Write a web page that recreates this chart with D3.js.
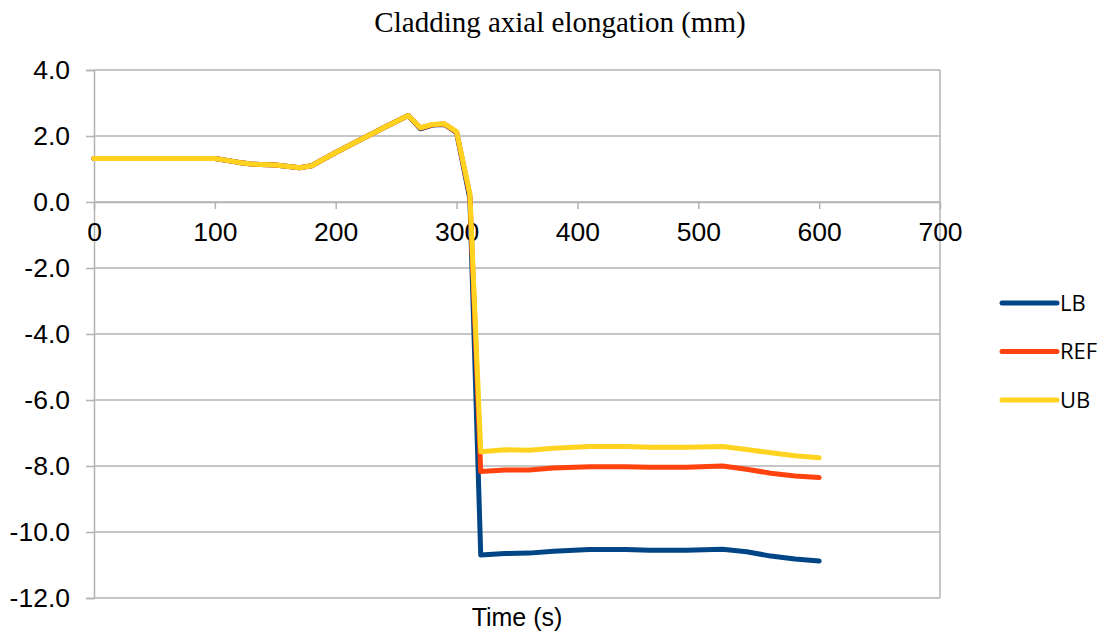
<!DOCTYPE html>
<html>
<head>
<meta charset="utf-8">
<script src="https://cdn.jsdelivr.net/npm/d3@7"></script>
<style>
  body { margin: 0; background: #fff; }
  svg { display: block; }
</style>
</head>
<body>
<div id="chart"><svg width="1110" height="637"></svg></div>
<script>
const TIME = [0, 100, 120, 130, 150, 170, 180, 200, 220, 240, 260, 270, 280, 290, 300, 311, 320, 340, 360, 380, 410, 440, 460, 490, 520, 540, 560, 580, 600];
const LB  = [1.32, 1.32, 1.2, 1.15, 1.12, 1.04, 1.1, 1.5, 1.88, 2.26, 2.62, 2.22, 2.33, 2.35, 2.1, 0.1, -10.7, -10.65, -10.64, -10.58, -10.53, -10.53, -10.55, -10.55, -10.52, -10.6, -10.73, -10.82, -10.88];
const REF = [1.32, 1.32, 1.2, 1.15, 1.12, 1.04, 1.1, 1.5, 1.88, 2.26, 2.62, 2.24, 2.34, 2.36, 2.12, 0.2, -8.17, -8.12, -8.12, -8.06, -8.02, -8.02, -8.04, -8.04, -8.0, -8.1, -8.22, -8.3, -8.35];
const UB  = [1.32, 1.32, 1.2, 1.15, 1.12, 1.04, 1.1, 1.5, 1.88, 2.26, 2.62, 2.25, 2.35, 2.37, 2.13, 0.25, -7.57, -7.51, -7.52, -7.46, -7.41, -7.41, -7.43, -7.43, -7.41, -7.5, -7.6, -7.69, -7.75];
const SERIES_NAMES = ['LB', 'REF', 'UB'];
const SERIES_COLORS = ['#004586', '#ff420e', '#ffd320'];
const X_TICKS = [0, 100, 200, 300, 400, 500, 600, 700];
const Y_TICKS = [4, 2, 0, -2, -4, -6, -8, -10, -12];

const SVG = d3.select('#chart svg');
const LEFT = 94, RIGHT = 940, TOP = 70, BOTTOM = 598;
const GRID = '#b3b3b3';
const SANS = '"Liberation Sans", Arial, sans-serif';

const X = d3.scaleLinear().domain([0, 700]).range([LEFT, RIGHT]);
const Y = d3.scaleLinear().domain([-12, 4]).range([BOTTOM, TOP]);

// horizontal gridlines
SVG.append('g')
  .selectAll('line')
  .data(Y_TICKS)
  .join('line')
  .attr('x1', LEFT).attr('x2', RIGHT)
  .attr('y1', (d) => Y(d)).attr('y2', (d) => Y(d))
  .style('stroke', GRID).style('stroke-width', 1.5);

// right border
SVG.append('line')
  .attr('x1', RIGHT).attr('x2', RIGHT).attr('y1', TOP).attr('y2', BOTTOM)
  .style('stroke', GRID).style('stroke-width', 1.5);

// y axis
const Y_AXIS = d3.axisLeft(Y).tickValues(Y_TICKS).tickSize(8).tickPadding(16);
const Y_GROUP = SVG.append('g').attr('transform', `translate(${LEFT},0)`);
Y_AXIS(Y_GROUP);
Y_GROUP.selectAll('path, line').style('stroke', GRID).style('stroke-width', 1.5);
Y_GROUP.selectAll('text')
  .style('font-family', SANS)
  .style('font-size', '26.5px').style('fill', '#000')
  .text((d) => d3.format('.1f')(d).replace('−', '-'));

// x axis through zero
const X_AXIS = d3.axisBottom(X).tickValues(X_TICKS).tickSize(7).tickSizeOuter(0).tickPadding(13).tickFormat(d3.format('d'));
const X_GROUP = SVG.append('g').attr('transform', `translate(0,${Y(0)})`);
X_AXIS(X_GROUP);
X_GROUP.selectAll('path, line').style('stroke', GRID).style('stroke-width', 1.5);
X_GROUP.selectAll('text')
  .style('font-family', SANS)
  .style('font-size', '26.5px').style('fill', '#000');

// lines
const SERIES = [LB, REF, UB].map((vals, k) => ({
  name: SERIES_NAMES[k],
  color: SERIES_COLORS[k],
  points: TIME.map((t, i) => ({ t, v: vals[i] })),
}));

SVG.append('g')
  .selectAll('path')
  .data(SERIES)
  .join('path')
  .attr('d', (s) => d3.line().x((d) => X(d.t)).y((d) => Y(d.v))(s.points))
  .style('fill', 'none')
  .style('stroke', (s) => s.color)
  .style('stroke-width', 5)
  .style('stroke-linejoin', 'round')
  .style('stroke-linecap', 'round');

// legend
const LEGEND = SVG.append('g')
  .selectAll('g')
  .data(SERIES)
  .join('g')
  .attr('transform', (d, i) => `translate(1002,${303 + i * 48.5})`);
LEGEND.append('line')
  .attr('x1', 0).attr('x2', 55)
  .style('stroke', (d) => d.color).style('stroke-width', 5).style('stroke-linecap', 'round');
LEGEND.append('text')
  .attr('x', 58).attr('dy', '0.36em')
  .text((d) => d.name)
  .style('font-family', '"Open Sans", sans-serif')
  .style('font-size', '22px').style('fill', '#000');

// title and axis label
SVG.append('text')
  .attr('x', 560).attr('y', 32)
  .attr('text-anchor', 'middle')
  .style('font-family', '"Liberation Serif", "Times New Roman", serif')
  .style('font-size', '29px')
  .text('Cladding axial elongation (mm)');

SVG.append('text')
  .attr('x', 517).attr('y', 626)
  .attr('text-anchor', 'middle')
  .style('font-family', SANS)
  .style('font-size', '25px')
  .text('Time (s)');
</script>
</body>
</html>
